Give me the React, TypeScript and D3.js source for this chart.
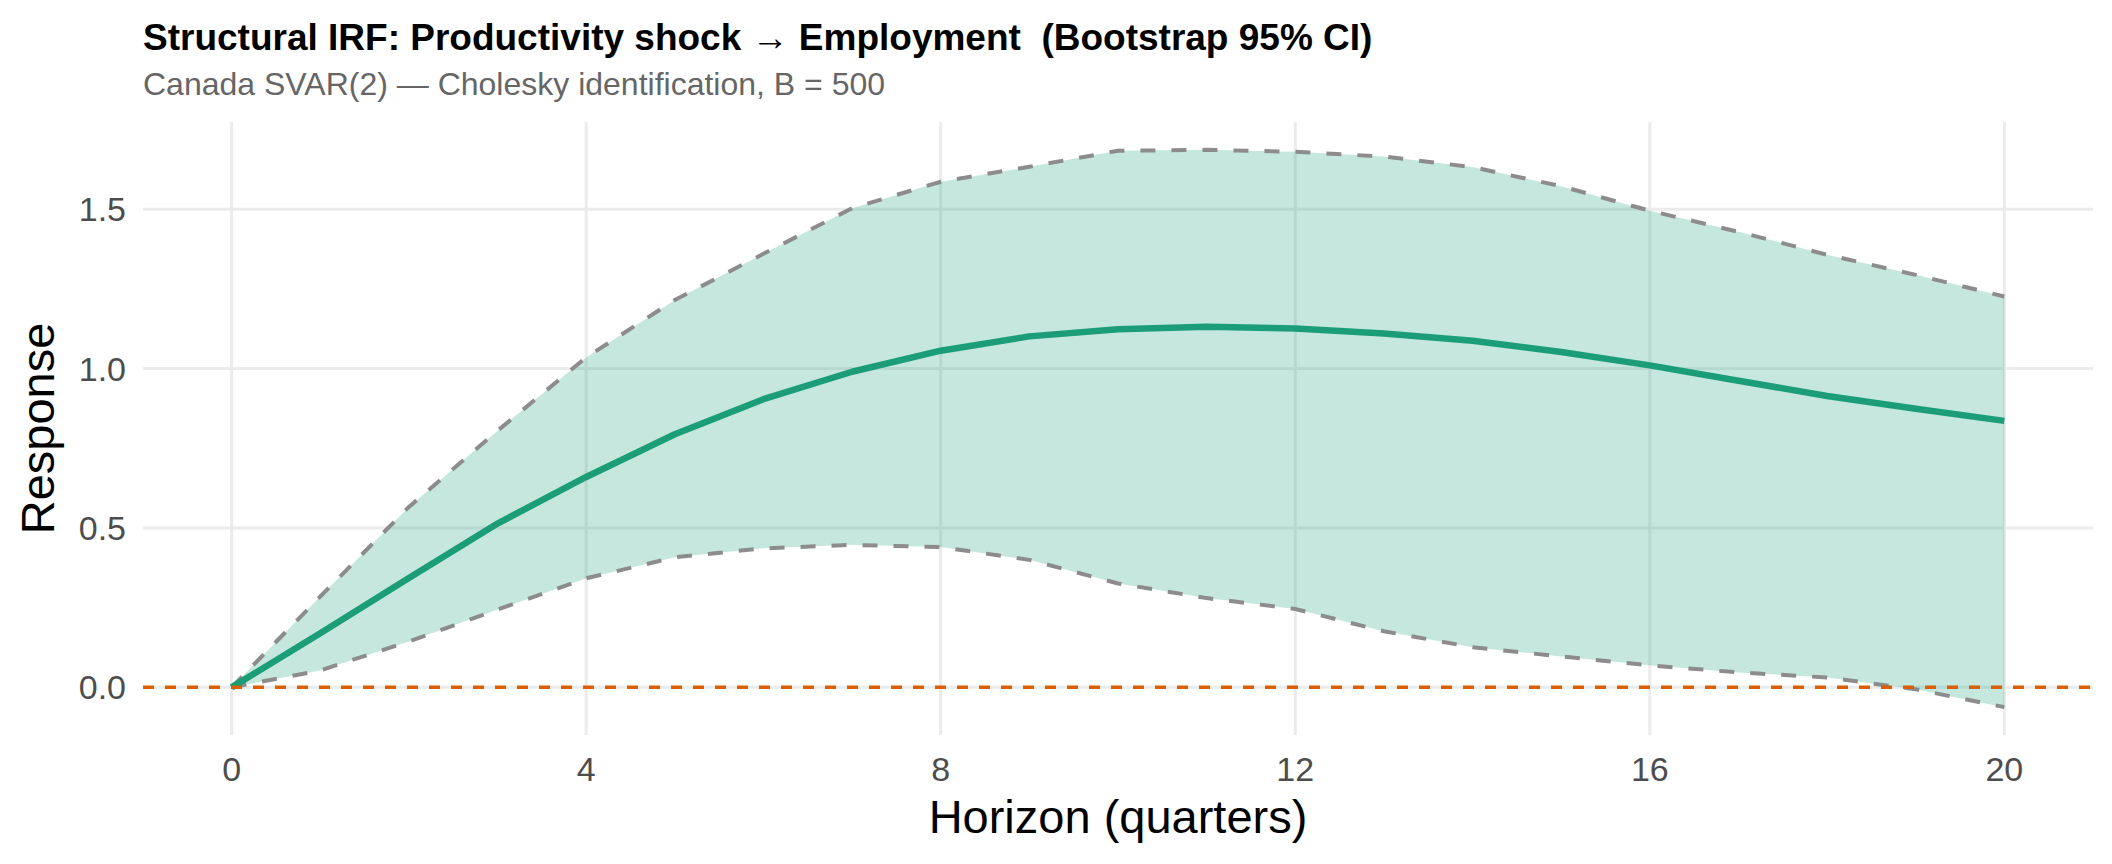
import { useEffect, useRef } from 'react'
import * as d3 from 'd3'

// IRF of employment to a productivity shock, horizons 0..20 (quarters)
const horizons = d3.range(0, 21)
const irf = [0, 0.17, 0.343, 0.514, 0.66, 0.794, 0.904, 0.99, 1.056, 1.101, 1.123, 1.131, 1.126, 1.11, 1.087, 1.052, 1.01, 0.962, 0.914, 0.874, 0.836]
const upper = [0, 0.285, 0.566, 0.805, 1.035, 1.215, 1.36, 1.503, 1.586, 1.633, 1.683, 1.686, 1.68, 1.665, 1.632, 1.572, 1.495, 1.429, 1.357, 1.294, 1.226]
const lower = [0, 0.053, 0.144, 0.244, 0.342, 0.408, 0.436, 0.447, 0.44, 0.4, 0.326, 0.28, 0.246, 0.176, 0.126, 0.097, 0.069, 0.047, 0.031, -0.006, -0.062]
const xTicks = [0, 4, 8, 12, 16, 20]
const yTicks = [0, 0.5, 1.0, 1.5]

const title = 'Structural IRF: Productivity shock \u2192 Employment  (Bootstrap 95% CI)'
const subtitle = 'Canada SVAR(2) \u2014 Cholesky identification, B = 500'

export default function App() {
  const svgRef = useRef<SVGSVGElement>(null)
  const width = 2112
  const height = 864

  useEffect(() => {
    if (!svgRef.current) return
    const svg = d3.select(svgRef.current)
    svg.selectAll('*').remove()

    const font = '"Liberation Sans", Arial, Helvetica, sans-serif'
    const panel = { left: 143, right: 2093, top: 122, bottom: 735 }

    const rows = horizons.map((h, i) => ({ h, irf: irf[i], lo: lower[i], hi: upper[i] }))

    // ggplot-like 5% expansion on both axes
    const xExt = d3.extent(horizons) as [number, number]
    const xPad = (xExt[1] - xExt[0]) * 0.05
    const yMin = Math.min(0, d3.min(lower) as number)
    const yMax = Math.max(0, d3.max(upper) as number)
    const yPad = (yMax - yMin) * 0.05

    const x = d3.scaleLinear()
      .domain([xExt[0] - xPad, xExt[1] + xPad])
      .range([panel.left, panel.right])

    const y = d3.scaleLinear()
      .domain([yMin - yPad, yMax + yPad])
      .range([panel.bottom, panel.top])

    // Grid
    svg.append('g')
      .selectAll('line')
      .data(yTicks)
      .enter()
      .append('line')
      .attr('x1', panel.left)
      .attr('x2', panel.right)
      .attr('y1', d => y(d))
      .attr('y2', d => y(d))
      .style('stroke', '#EBEBEB')
      .style('stroke-width', '3px')

    svg.append('g')
      .selectAll('line')
      .data(xTicks)
      .enter()
      .append('line')
      .attr('x1', d => x(d))
      .attr('x2', d => x(d))
      .attr('y1', panel.top)
      .attr('y2', panel.bottom)
      .style('stroke', '#EBEBEB')
      .style('stroke-width', '3px')

    // Ribbon
    const area = d3.area<typeof rows[number]>()
      .x(d => x(d.h))
      .y0(d => y(d.lo))
      .y1(d => y(d.hi))

    svg.append('path')
      .datum(rows)
      .attr('d', area)
      .style('fill', '#1B9E77')
      .style('fill-opacity', 0.25)

    // Bounds
    const bandLine = (key: 'lo' | 'hi') => d3.line<typeof rows[number]>()
      .x(d => x(d.h))
      .y(d => y(d[key]))

    ;(['lo', 'hi'] as const).forEach(key => {
      svg.append('path')
        .datum(rows)
        .attr('d', bandLine(key))
        .style('fill', 'none')
        .style('stroke', '#8C8C8C')
        .style('stroke-width', '4px')
        .style('stroke-dasharray', '15 16')
    })

    // Point estimate
    svg.append('path')
      .datum(rows)
      .attr('d', d3.line<typeof rows[number]>().x(d => x(d.h)).y(d => y(d.irf)))
      .style('fill', 'none')
      .style('stroke', '#1B9E77')
      .style('stroke-width', '6.5px')
      .style('stroke-linejoin', 'round')

    // Zero line
    svg.append('line')
      .attr('x1', panel.left)
      .attr('x2', panel.right)
      .attr('y1', y(0))
      .attr('y2', y(0))
      .style('stroke', '#D95F02')
      .style('stroke-width', '3.5px')
      .style('stroke-dasharray', '11 11')

    // Tick labels
    xTicks.forEach(tick => {
      svg.append('text')
        .attr('x', x(tick))
        .attr('y', 781)
        .attr('text-anchor', 'middle')
        .style('fill', '#4D4D4D')
        .style('font-size', '34px')
        .style('font-family', font)
        .text(String(tick))
    })

    yTicks.forEach(tick => {
      svg.append('text')
        .attr('x', 126)
        .attr('y', y(tick) + 12)
        .attr('text-anchor', 'end')
        .style('fill', '#4D4D4D')
        .style('font-size', '34px')
        .style('font-family', font)
        .text(tick.toFixed(1))
    })

    // Axis titles
    svg.append('text')
      .attr('x', (panel.left + panel.right) / 2)
      .attr('y', 833)
      .attr('text-anchor', 'middle')
      .style('fill', '#000')
      .style('font-size', '47px')
      .style('font-family', font)
      .text('Horizon (quarters)')

    svg.append('text')
      .attr('transform', `translate(54,${(panel.top + panel.bottom) / 2}) rotate(-90)`)
      .attr('text-anchor', 'middle')
      .style('fill', '#000')
      .style('font-size', '47px')
      .style('font-family', font)
      .text('Response')

    // Title and subtitle
    svg.append('text')
      .attr('x', 143)
      .attr('y', 50)
      .style('fill', '#000')
      .style('font-size', '37px')
      .style('font-weight', 'bold')
      .style('font-family', font)
      .style('white-space', 'pre')
      .text(title)

    svg.append('text')
      .attr('x', 143)
      .attr('y', 95)
      .style('fill', '#666666')
      .style('font-size', '32px')
      .style('font-family', font)
      .text(subtitle)
  }, [])

  return (
    <svg
      ref={svgRef}
      width={width}
      height={height}
      style={{ position: 'absolute', left: 0, top: 0, background: '#fff' }}
    />
  )
}
